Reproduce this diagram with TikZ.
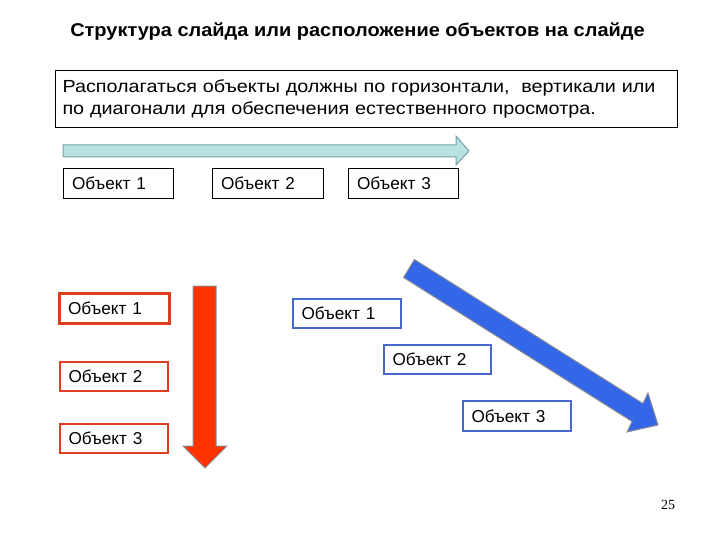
\documentclass[tikz,border=0pt]{standalone}
\usepackage{fontspec}
\setmainfont{Liberation Sans}
\newfontfamily\widefont[FakeStretch=1.13]{Liberation Sans}
\newfontfamily\titlefont[FakeStretch=1.08]{Liberation Sans}
\newfontfamily\numfont{Liberation Serif}
\definecolor{objred}{RGB}{222,62,32}
\definecolor{objblue}{RGB}{70,104,200}
\definecolor{tealfill}{RGB}{184,226,226}
\definecolor{tealline}{RGB}{120,160,165}
\definecolor{redfill}{RGB}{255,51,0}
\definecolor{bluefill}{RGB}{52,102,232}
\definecolor{arrowgray}{RGB}{140,140,150}
\begin{document}
\begin{tikzpicture}[x=1pt,y=-1pt,
  objbox/.style={draw, rectangle, anchor=north west, minimum height=#1, inner xsep=8.5pt, inner ysep=0pt, align=left, font=\fontsize{17.2}{20}\selectfont},
  objbox/.default=30pt]
\useasboundingbox (0,0) rectangle (720,540);
% title
\node[font=\titlefont\fontsize{18.5}{22}\bfseries\selectfont] (title) at (357.5,32) {Структура слайда или расположение объектов на слайде};
% main text box
\node[draw, line width=1pt, anchor=north west, minimum width=622pt, minimum height=57pt, inner xsep=7pt, text width=608pt, align=left, font=\widefont\fontsize{17.5}{22}\selectfont] (main) at (55,70) {Располагаться объекты должны по горизонтали,\ \ вертикали или\\по диагонали для обеспечения естественного просмотра.};
% teal arrow
\draw[fill=tealfill, draw=tealline, line width=1pt] (63,145) -- (456,145) -- (456,136) -- (469,151) -- (456,165) -- (456,157) -- (63,157) -- cycle;
% horizontal objects
\node[objbox, line width=1pt, text width=93pt] (h1) at (63,168) {Объект 1};
\node[objbox, line width=1pt, text width=94pt] (h2) at (212,168) {Объект 2};
\node[objbox, line width=1pt, text width=93pt] (h3) at (348,168) {Объект 3};
% vertical objects
\node[objbox, draw=objred, line width=3pt, text width=93pt] (v1) at (58,292) {Объект 1};
\node[objbox=29pt, draw=objred, line width=2pt, text width=91pt] (v2) at (59,361) {Объект 2};
\node[objbox=29pt, draw=objred, line width=2pt, text width=91pt] (v3) at (59,423) {Объект 3};
% red arrow
\draw[fill=redfill, draw=arrowgray, line width=1pt] (193,286) -- (216,286) -- (216,446) -- (227,446) -- (205,468) -- (183,446) -- (193,446) -- cycle;
% diagonal objects
\node[objbox=29pt, draw=objblue, line width=2pt, text width=91pt] (d1) at (292,298) {Объект 1};
\node[objbox=29pt, draw=objblue, line width=2pt, text width=90pt] (d2) at (383,344) {Объект 2};
\node[objbox, draw=objblue, line width=2pt, text width=91pt] (d3) at (462,400) {Объект 3};
% blue arrow
\draw[fill=bluefill, draw=arrowgray, line width=1pt] (414.4,259.5) -- (642.9,403.5) -- (648,393) -- (658,425) -- (627,432) -- (632.1,421.5) -- (403.6,277.5) -- cycle;
% page number
\node[font=\numfont\fontsize{14}{16}\selectfont] (page) at (668,505) {25};
\end{tikzpicture}
\end{document}
